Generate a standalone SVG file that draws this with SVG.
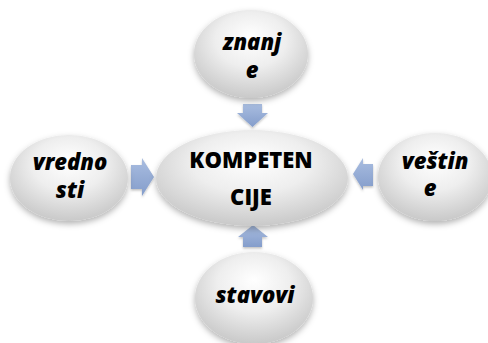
<svg xmlns="http://www.w3.org/2000/svg" width="488" height="343" viewBox="0 0 488 343">
<defs>
<radialGradient id="g" cx="50%" cy="38%" r="62%" fx="50%" fy="30%">
<stop offset="0" stop-color="#ffffff"/>
<stop offset="0.5" stop-color="#eeeeee"/>
<stop offset="1" stop-color="#c9c9c9"/>
</radialGradient>
<linearGradient id="ag" x1="0" y1="0" x2="0" y2="1">
<stop offset="0" stop-color="#a9bde0"/>
<stop offset="1" stop-color="#849dcb"/>
</linearGradient>
<filter id="sh" x="-20%" y="-20%" width="140%" height="150%">
<feDropShadow dx="0" dy="3" stdDeviation="3" flood-color="#000" flood-opacity="0.3"/>
</filter>
<filter id="ash" x="-30%" y="-30%" width="160%" height="160%">
<feDropShadow dx="0" dy="1.5" stdDeviation="1.2" flood-color="#000" flood-opacity="0.25"/>
</filter>
</defs>
<style>
.n{fill:url(#g);filter:url(#sh)}
.t{font-family:"Open Sans","DejaVu Sans",sans-serif;font-size:22px;font-weight:800;font-style:italic;fill:#000;text-anchor:middle}
.c{font-style:normal}
.a{fill:url(#ag);filter:url(#ash)}
</style>
<g id="connectors">
<path class="a" d="M243,104 H262 V113 H268 L252.5,127 L237,113 H243 Z"/>
<path class="a" d="M243,247 H262 V237 H268 L253,225 L238,237 H243 Z"/>
<path class="a" d="M131,165 H142 V158 L154,177 L142,196 V189 H131 Z"/>
<path class="a" d="M373,164 H363 V158 L353,174 L363,190 V186 H373 Z"/>
</g>
<g id="kompetencije">
<ellipse class="n" cx="252" cy="178" rx="96" ry="48"/>
<text class="t c" x="251" y="168">KOMPETEN</text>
<text class="t c" x="251" y="205">CIJE</text>
</g>
<g id="znanje">
<ellipse class="n" cx="251" cy="54" rx="57" ry="44"/>
<text class="t" x="252" y="50">znanj</text>
<text class="t" x="252" y="78">e</text>
</g>
<g id="vrednosti">
<ellipse class="n" cx="69" cy="178" rx="59" ry="43"/>
<text class="t" x="70" y="170">vredno</text>
<text class="t" x="70" y="198">sti</text>
</g>
<g id="vestine">
<ellipse class="n" cx="435" cy="177" rx="57" ry="44"/>
<text class="t" x="435" y="169">veštin</text>
<text class="t" x="430" y="196">e</text>
</g>
<g id="stavovi">
<ellipse class="n" cx="254" cy="298" rx="59" ry="46"/>
<text class="t" x="255" y="303">stavovi</text>
</g>
</svg>
